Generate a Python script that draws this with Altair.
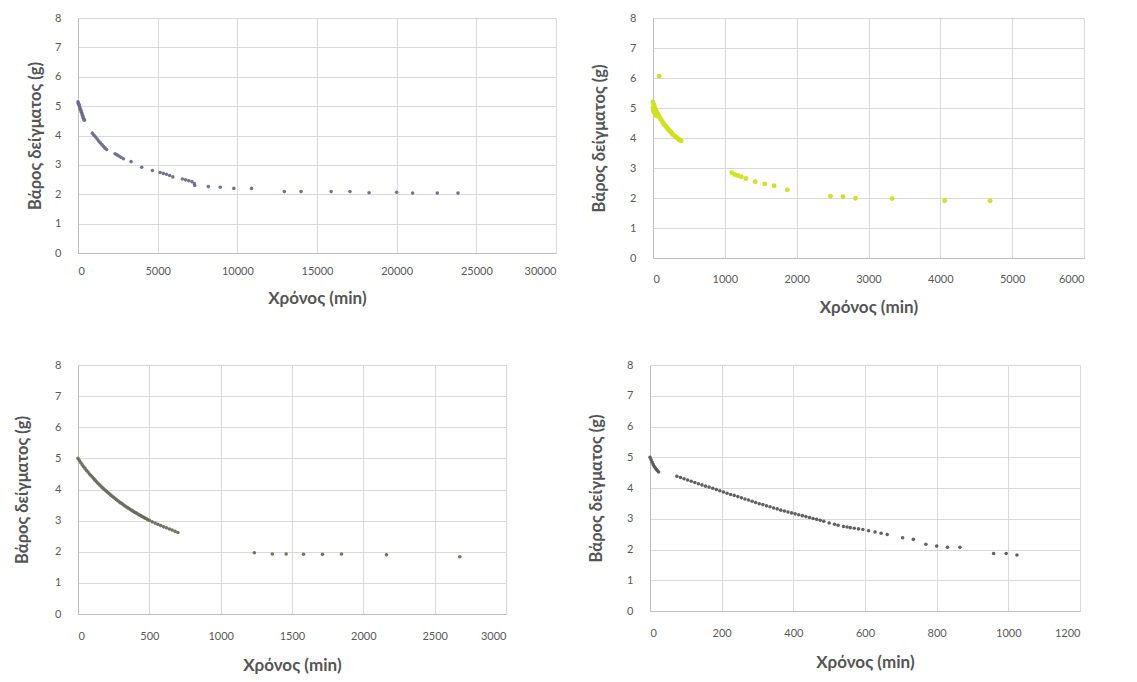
import altair as alt
import pandas as pd

# ---------- Panel 1 (top-left) ----------
t1 = [0, 25, 50, 75, 100, 130, 160, 190, 220, 250, 280, 310, 340, 370, 400,
      900, 1000, 1100, 1200, 1300, 1400, 1500, 1600, 1700, 1800,
      2330, 2450, 2570, 2700, 2850, 3330, 4000, 4670,
      5150, 5350, 5550, 5750, 5950, 6550, 6750, 6950, 7150, 7300, 7330,
      8180, 8930, 9780, 10890,
      12950, 14000, 15890, 17070, 18270, 20000, 21000, 22550, 23850]
w1 = [5.15, 5.10, 5.06, 5.02, 4.98, 4.93, 4.88, 4.84, 4.79, 4.74, 4.69, 4.64, 4.59, 4.55, 4.52,
      4.08, 4.01, 3.95, 3.88, 3.81, 3.75, 3.69, 3.63, 3.57, 3.52,
      3.38, 3.34, 3.30, 3.26, 3.21, 3.11, 2.92, 2.81,
      2.74, 2.71, 2.68, 2.64, 2.59, 2.52, 2.49, 2.46, 2.43, 2.36, 2.30,
      2.26, 2.24, 2.20, 2.20,
      2.09, 2.09, 2.09, 2.09, 2.05, 2.07, 2.04, 2.04, 2.04]

# ---------- Panel 2 (top-right) ----------
t2 = [86,
      0, 10, 20, 30, 40, 55, 70, 85, 100, 115, 130, 145, 160, 175, 190, 205,
      220, 235, 250, 265, 280, 295, 310, 325, 340, 355, 370, 385, 392,
      0, 5, 15, 30, 45,
      1098, 1140, 1180, 1228, 1293, 1423, 1556, 1686, 1870,
      2470, 2645, 2820, 3330, 4060, 4693]
w2 = [6.06,
      5.20, 5.12, 5.05, 4.98, 4.93, 4.86, 4.78, 4.72, 4.66, 4.60, 4.54, 4.49, 4.44, 4.40, 4.36, 4.31,
      4.27, 4.23, 4.19, 4.15, 4.11, 4.08, 4.05, 4.02, 3.99, 3.96, 3.94, 3.92, 3.90,
      5.00, 4.92, 4.86, 4.80, 4.74,
      2.84, 2.78, 2.75, 2.71, 2.65, 2.54, 2.47, 2.41, 2.27,
      2.06, 2.04, 1.99, 1.98, 1.91, 1.91]

# ---------- Panel 3 (bottom-left) ----------
t3 = [0, 10, 20, 30, 40, 50, 60, 70, 80, 90, 100, 110, 120, 130, 140, 150, 160, 170,
      180, 190, 200, 210, 220, 230, 240, 250, 260, 270, 280, 290, 300, 310, 320,
      330, 340, 350, 360, 370, 380, 390, 400, 410, 420, 430, 440, 450, 460, 470,
      480, 490, 500, 520, 540, 560, 580, 600, 620, 640, 660, 680, 700,
      1236, 1362, 1459, 1581, 1714, 1847, 2162, 2676]
w3 = [5.00, 4.93, 4.86, 4.79, 4.73, 4.67, 4.61, 4.56, 4.50, 4.45, 4.40, 4.35, 4.30, 4.25, 4.20, 4.15, 4.11, 4.06,
      4.02, 3.98, 3.94, 3.90, 3.86, 3.82, 3.78, 3.75, 3.71, 3.67, 3.64, 3.60, 3.57, 3.54, 3.50,
      3.47, 3.44, 3.41, 3.38, 3.35, 3.32, 3.29, 3.26, 3.24, 3.21, 3.18, 3.16, 3.13, 3.11, 3.08,
      3.06, 3.03, 3.01, 2.96, 2.92, 2.88, 2.84, 2.80, 2.77, 2.73, 2.70, 2.66, 2.62,
      1.97, 1.93, 1.93, 1.92, 1.92, 1.93, 1.90, 1.84]

# ---------- Panel 4 (bottom-right) ----------
t4 = [0, 3, 6, 9, 12, 15, 18, 21, 24,
      75, 85, 95, 105, 115, 125, 135, 145, 155, 165, 175, 185, 195, 205, 215, 225,
      235, 245, 255, 265, 275, 285, 295, 305, 315, 325, 335, 345, 355, 365, 375,
      385, 395, 405, 415, 425, 435, 445, 455, 465, 475, 485,
      500, 515, 525, 540, 550, 559, 570, 582, 594, 610, 628, 645, 662,
      705, 735, 770, 800, 830, 865, 959, 994, 1024]
w4 = [5.00, 4.92, 4.84, 4.76, 4.70, 4.65, 4.60, 4.56, 4.52,
      4.38, 4.34, 4.30, 4.26, 4.22, 4.18, 4.14, 4.10, 4.06, 4.03, 3.99, 3.95, 3.91, 3.87, 3.83, 3.79,
      3.76, 3.72, 3.68, 3.64, 3.61, 3.57, 3.53, 3.49, 3.46, 3.42, 3.39, 3.35, 3.32, 3.28, 3.25,
      3.22, 3.19, 3.16, 3.13, 3.10, 3.07, 3.04, 3.01, 2.98, 2.95, 2.92,
      2.86, 2.82, 2.79, 2.75, 2.73, 2.71, 2.69, 2.67, 2.65, 2.61, 2.57, 2.53, 2.49,
      2.38, 2.33, 2.17, 2.11, 2.07, 2.07, 1.87, 1.87, 1.82]

Y_TITLE = "Βάρος δείγματος (g)"
X_TITLE = "Χρόνος (min)"
FONT = "Lato"


def panel(t, w, color, xmax, xstep, width, height, size,
          ytp=22, xlp=12, xtp=14):
    df = pd.DataFrame({"t": t, "w": w})
    return alt.Chart(df).mark_circle(size=size, color=color, opacity=0.95).encode(
        x=alt.X("t:Q",
                scale=alt.Scale(domain=[0, xmax], nice=False, zero=True),
                axis=alt.Axis(values=list(range(0, xmax + 1, xstep)), format="d",
                              title=X_TITLE, titleFontSize=17, titleFontWeight="bold",
                              titleColor="#555555", titlePadding=xtp, labelPadding=xlp)),
        y=alt.Y("w:Q",
                scale=alt.Scale(domain=[0, 8], nice=False),
                axis=alt.Axis(values=list(range(0, 9)), format="d",
                              title=Y_TITLE, titleFontSize=16.5, titleFontWeight="bold",
                              titleColor="#555555", titlePadding=ytp, labelPadding=17)),
    ).properties(width=width, height=height)


p1 = panel(t1, w1, "#6c6c92", 30000, 5000, 478, 235, 13, ytp=11)
p2 = panel(t2, w2, "#cfe21a", 6000, 1000, 431, 240, 24, ytp=22, xlp=15, xtp=15)
p3 = panel(t3, w3, "#6a6d5c", 3000, 500, 428, 249, 13, ytp=24, xlp=16, xtp=16)
p4 = panel(t4, w4, "#5a5a5a", 1200, 200, 430, 246, 13, ytp=22, xlp=16, xtp=16)

top = alt.hconcat(p1, p2, spacing=35)
bottom = alt.hconcat(p3, p4, spacing=82)

chart = alt.vconcat(top, bottom, spacing=44).properties(
    padding={"left": 14, "top": 12, "right": 2, "bottom": 2},
    background="white",
).configure_view(stroke=None).configure_axis(
    grid=True, gridColor="#d9d9d9", gridWidth=1,
    domainColor="#bfbfbf", ticks=False,
    labelColor="#595959", labelFontSize=11, labelFont=FONT, titleFont=FONT,
)

chart.save("out.html", embed_options={"renderer": "svg", "actions": False})
